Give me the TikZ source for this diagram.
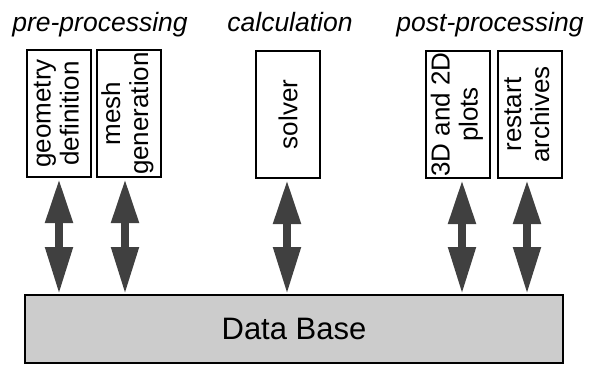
\documentclass[tikz,border=0pt]{standalone}
\usepackage{fontspec}
\setmainfont{Liberation Sans}
\usetikzlibrary{arrows.meta}
\definecolor{arrowgray}{gray}{0.25}
\definecolor{dbgray}{gray}{0.80}
\begin{document}
\begin{tikzpicture}[x=1pt,y=1pt,
  box/.style={draw=black,line width=2pt,fill=white,minimum width=64pt,minimum height=127pt,inner sep=0pt},
  boxtext/.style={font=\fontsize{26}{28}\selectfont},
  title/.style={font=\fontsize{26.5}{30}\selectfont\itshape,anchor=base},
  dbl/.style={draw=arrowgray,line width=8pt,{Triangle[length=44pt,width=26pt]}-{Triangle[length=47pt,width=26pt]},color=arrowgray}
]
\useasboundingbox (0,0) rectangle (594,365);
% titles
\node[title] (t1) at (100,333) {pre-processing};
\node[title] (t2) at (290,333) {calculation};
\node[title] (t3) at (490,333) {post-processing};
% boxes
\node[box] (geo) at (59,251.5) {\rotatebox{90}{\fontsize{26}{28}\selectfont\begin{tabular}{@{}c@{}}geometry\\definition\end{tabular}}};
\node[box] (mesh) at (128.5,251.5) {\rotatebox{90}{\fontsize{26}{28}\selectfont\begin{tabular}{@{}c@{}}mesh\\generation\end{tabular}}};
\node[box] (solver) at (288,250.5) {\rotatebox{90}{\fontsize{26}{28}\selectfont solver}};
\node[box] (plots) at (458,250.5) {\rotatebox{90}{\fontsize{26}{28}\selectfont\begin{tabular}{@{}c@{}}3D and 2D\\plots\end{tabular}}};
\node[box] (restart) at (529.5,250.5) {\rotatebox{90}{\fontsize{26}{28}\selectfont\begin{tabular}{@{}c@{}}restart\\archives\end{tabular}}};
% data base
\node[draw=black,line width=2pt,fill=dbgray,minimum width=538pt,minimum height=68pt,inner sep=0pt,font=\fontsize{31}{34}\selectfont] (db) at (294,36) {Data Base};
% arrows
\coordinate (a1) at (geo.south);
\coordinate (a2) at ([xshift=-3.5pt]mesh.south);
\coordinate (a3) at ([xshift=-1pt]solver.south);
\coordinate (a4) at ([xshift=4pt]plots.south);
\coordinate (a5) at ([xshift=-2.5pt]restart.south);
\foreach \a in {a1,a2,a3,a4,a5}{
  \draw[dbl] ([yshift=-1pt]\a) -- (\a |- db.north);
}
\end{tikzpicture}
\end{document}
